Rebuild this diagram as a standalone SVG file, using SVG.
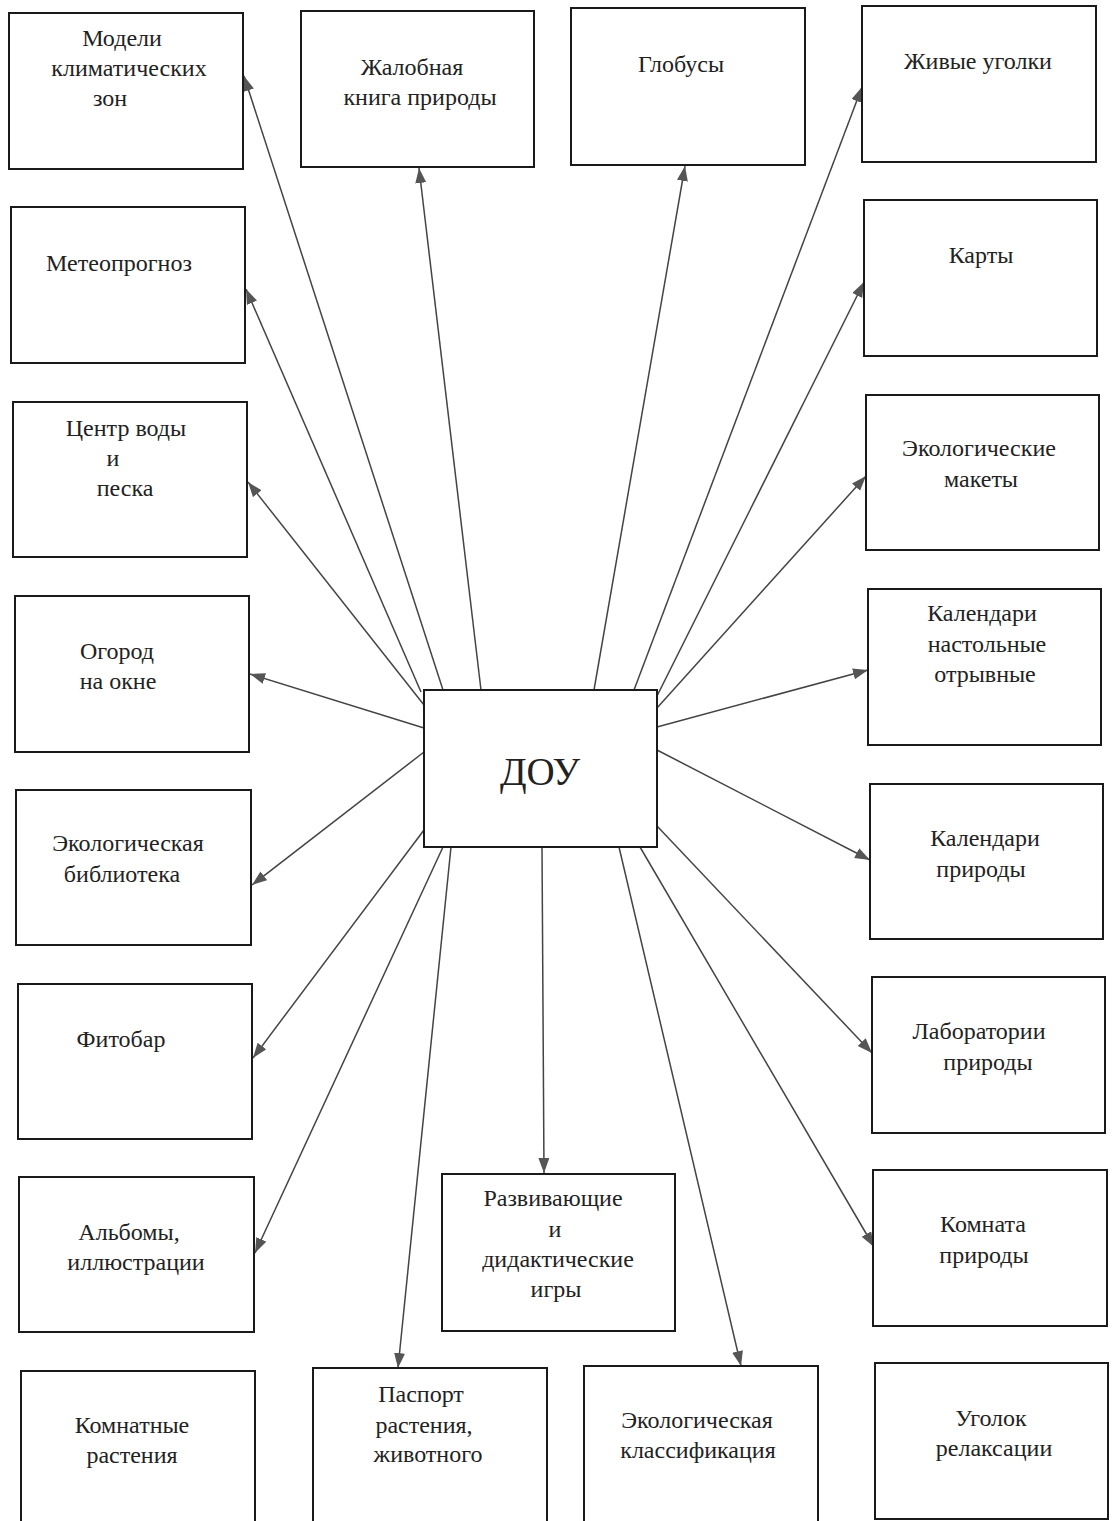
<svg xmlns="http://www.w3.org/2000/svg" width="1112" height="1521" viewBox="0 0 1112 1521">
<style>
.box{fill:#fff;stroke:#1a1a1a;stroke-width:2}
.t{font-family:'Liberation Serif','Times New Roman','DejaVu Serif',serif;font-size:24px;fill:#222;text-anchor:middle}
.big{font-size:39px}
.c line{stroke:#444;stroke-width:1.5;marker-end:url(#ah)}
</style>
<defs>
<marker id="ah" markerUnits="userSpaceOnUse" markerWidth="16" markerHeight="12" refX="15" refY="5.5" orient="auto">
<path d="M0,0 L15,5.5 L0,11 z" fill="#555"/>
</marker>
</defs>
<rect width="1112" height="1521" fill="#fff"/>
<g class="c" id="connectors">
<line x1="443" y1="690" x2="244" y2="76"/>
<line x1="481" y1="690" x2="419" y2="168"/>
<line x1="594" y1="690" x2="685" y2="166"/>
<line x1="634" y1="690" x2="862" y2="87"/>
<line x1="657" y1="696" x2="864" y2="282"/>
<line x1="657" y1="708" x2="866" y2="476"/>
<line x1="657" y1="727" x2="868" y2="670"/>
<line x1="657" y1="750" x2="870" y2="860"/>
<line x1="657" y1="826" x2="872" y2="1053"/>
<line x1="640" y1="847" x2="874" y2="1247"/>
<line x1="619" y1="847" x2="741" y2="1366"/>
<line x1="542" y1="847" x2="544" y2="1173"/>
<line x1="451" y1="847" x2="398" y2="1368"/>
<line x1="443" y1="847" x2="255" y2="1253"/>
<line x1="427" y1="826" x2="253" y2="1058"/>
<line x1="424" y1="752" x2="252" y2="885"/>
<line x1="424" y1="728" x2="250" y2="674"/>
<line x1="424" y1="705" x2="248" y2="482"/>
<line x1="421" y1="692" x2="246" y2="289"/>
</g>
<g id="n-dou"><rect class="box" x="424" y="690" width="233" height="157"/><text class="t big" x="540" y="785" font-family="Liberation Serif">ДОУ</text></g>
<g id="n-modeli"><rect class="box" x="9" y="13" width="234" height="156"/><text class="t" x="122" y="46">Модели</text><text class="t" x="129" y="76">климатических</text><text class="t" x="110" y="106">зон</text></g>
<g id="n-meteo"><rect class="box" x="11" y="207" width="234" height="156"/><text class="t" x="119" y="271">Метеопрогноз</text></g>
<g id="n-centr"><rect class="box" x="13" y="402" width="234" height="155"/><text class="t" x="126" y="436">Центр воды</text><text class="t" x="113" y="466">и</text><text class="t" x="125" y="496">песка</text></g>
<g id="n-ogorod"><rect class="box" x="15" y="596" width="234" height="156"/><text class="t" x="117" y="659">Огород</text><text class="t" x="118" y="689">на окне</text></g>
<g id="n-biblio"><rect class="box" x="16" y="790" width="235" height="155"/><text class="t" x="128" y="851">Экологическая</text><text class="t" x="122" y="882">библиотека</text></g>
<g id="n-fitobar"><rect class="box" x="18" y="984" width="234" height="155"/><text class="t" x="121" y="1047">Фитобар</text></g>
<g id="n-albomy"><rect class="box" x="19" y="1177" width="235" height="155"/><text class="t" x="129" y="1240">Альбомы,</text><text class="t" x="136" y="1270">иллюстрации</text></g>
<g id="n-komnatnye"><rect class="box" x="21" y="1371" width="234" height="160"/><text class="t" x="132" y="1433">Комнатные</text><text class="t" x="132" y="1463">растения</text></g>
<g id="n-zhalob"><rect class="box" x="301" y="11" width="233" height="156"/><text class="t" x="412" y="75">Жалобная</text><text class="t" x="420" y="105">книга природы</text></g>
<g id="n-globus"><rect class="box" x="571" y="8" width="234" height="157"/><text class="t" x="681" y="72">Глобусы</text></g>
<g id="n-zhivye"><rect class="box" x="862" y="6" width="234" height="156"/><text class="t" x="978" y="69">Живые уголки</text></g>
<g id="n-karty"><rect class="box" x="864" y="200" width="233" height="156"/><text class="t" x="981" y="263">Карты</text></g>
<g id="n-makety"><rect class="box" x="866" y="395" width="233" height="155"/><text class="t" x="979" y="456">Экологические</text><text class="t" x="981" y="487">макеты</text></g>
<g id="n-kal-nast"><rect class="box" x="868" y="589" width="233" height="156"/><text class="t" x="982" y="621">Календари</text><text class="t" x="987" y="652">настольные</text><text class="t" x="985" y="682">отрывные</text></g>
<g id="n-kal-prir"><rect class="box" x="870" y="784" width="233" height="155"/><text class="t" x="985" y="846">Календари</text><text class="t" x="981" y="877">природы</text></g>
<g id="n-labor"><rect class="box" x="872" y="977" width="233" height="156"/><text class="t" x="979" y="1039">Лаборатории</text><text class="t" x="988" y="1070">природы</text></g>
<g id="n-komnata"><rect class="box" x="873" y="1170" width="234" height="156"/><text class="t" x="983" y="1232">Комната</text><text class="t" x="984" y="1263">природы</text></g>
<g id="n-ugolok"><rect class="box" x="875" y="1363" width="233" height="156"/><text class="t" x="991" y="1426">Уголок</text><text class="t" x="994" y="1456">релаксации</text></g>
<g id="n-razv"><rect class="box" x="442" y="1174" width="233" height="157"/><text class="t" x="553" y="1206">Развивающие</text><text class="t" x="555" y="1237">и</text><text class="t" x="558" y="1267">дидактические</text><text class="t" x="556" y="1297">игры</text></g>
<g id="n-pasport"><rect class="box" x="313" y="1368" width="234" height="163"/><text class="t" x="421" y="1402">Паспорт</text><text class="t" x="424" y="1433">растения,</text><text class="t" x="428" y="1462">животного</text></g>
<g id="n-klass"><rect class="box" x="584" y="1366" width="234" height="165"/><text class="t" x="697" y="1428">Экологическая</text><text class="t" x="698" y="1458">классификация</text></g>
</svg>
